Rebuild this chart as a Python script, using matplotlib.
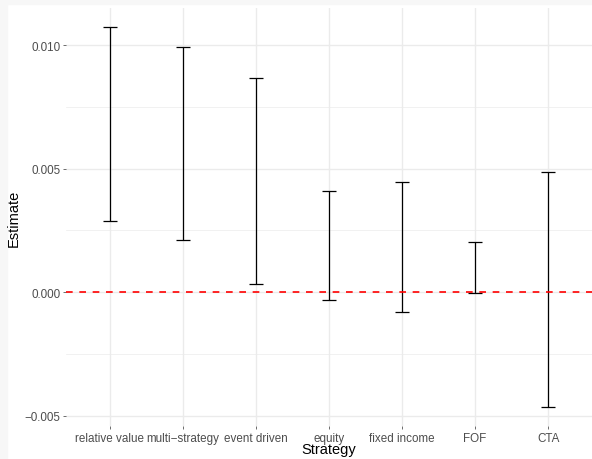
"""Strategy estimates with confidence intervals (errorbar chart)."""

import matplotlib

matplotlib.use("Agg")
import matplotlib.pyplot as plt
from matplotlib.patches import Rectangle

strategies = ["relative value", "multi\u2212strategy", "event driven", "equity",
              "fixed income", "FOF", "CTA"]
lower = [0.00288, 0.00210, 0.00032, -0.00031, -0.00081, -0.00005, -0.00465]
upper = [0.01074, 0.00995, 0.00866, 0.00409, 0.00446, 0.00204, 0.00485]
yticks = [-0.005, 0.0, 0.005, 0.010]
ytick_labels = ["\u22120.005", "0.000", "0.005", "0.010"]
minor_ticks = [-0.0025, 0.0025, 0.0075]

plt.rcParams["font.family"] = ["Liberation Sans", "DejaVu Sans"]

fig = plt.figure(figsize=(5.92, 4.6), dpi=100, facecolor="white")
# faint border strip along the top and left edges of the original image
fig.patches.append(Rectangle((0, 1 - 5 / 460), 1, 5 / 460, transform=fig.transFigure,
                             color="#f7f7f7", zorder=-10))
fig.patches.append(Rectangle((0, 0), 7 / 592, 1, transform=fig.transFigure,
                             color="#f7f7f7", zorder=-10))

ax = fig.add_axes([66 / 592, 33 / 460, 1 - 66 / 592, (427 - 9) / 460])
ax.set_facecolor("white")

x = list(range(1, len(strategies) + 1))

# grid
for v in minor_ticks:
    ax.axhline(v, color="#ebebeb", lw=0.5, zorder=0)
for v in yticks:
    ax.axhline(v, color="#ebebeb", lw=1.0, zorder=0)
for v in x:
    ax.axvline(v, color="#ebebeb", lw=1.0, zorder=0)

ax.vlines(x, lower, upper, color="black", lw=0.9, zorder=2)
cap = 0.1
ax.hlines(lower, [xi - cap for xi in x], [xi + cap for xi in x], color="black", lw=0.9, zorder=2)
ax.hlines(upper, [xi - cap for xi in x], [xi + cap for xi in x], color="black", lw=0.9, zorder=2)

ax.axhline(0, color="#ff0000", lw=1.2, linestyle=(0, (4, 4)), zorder=3)

span = max(upper) - min(lower)
ax.set_ylim(min(lower) - 0.05 * span, max(upper) + 0.05 * span)
ax.set_xlim(0.4, len(strategies) + 0.6)

ax.set_xticks(x)
ax.set_xticklabels(strategies)
ax.set_yticks(yticks)
ax.set_yticklabels(ytick_labels)
ax.tick_params(axis="both", length=2.5, width=0.5, color="#333333", labelcolor="#4d4d4d",
               labelsize=8.4, pad=1.5)
for s in ax.spines.values():
    s.set_visible(False)

ax.set_xlabel("Strategy", fontsize=10.5, color="black", labelpad=-1)
ax.set_ylabel("Estimate", fontsize=10.5, color="black", labelpad=3)

fig.savefig("out.png", dpi=100, facecolor=fig.get_facecolor())
